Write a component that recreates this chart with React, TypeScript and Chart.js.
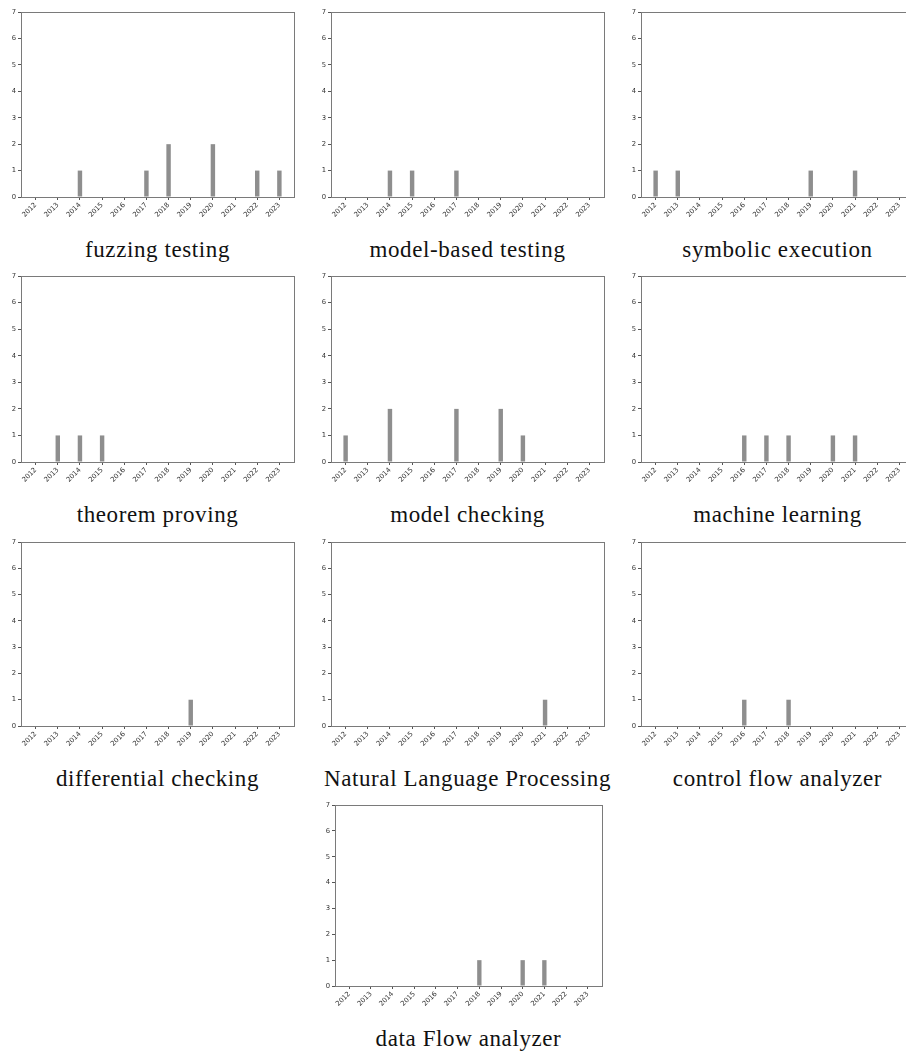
import { useEffect, useRef } from "react";
import { Chart, registerables } from "chart.js";

Chart.register(...registerables);

// ---- data ----
const years = [2012, 2013, 2014, 2015, 2016, 2017, 2018, 2019, 2020, 2021, 2022, 2023];
const yTickValues = [0, 1, 2, 3, 4, 5, 6, 7];

const fuzzingTesting = [0, 0, 1, 0, 0, 1, 2, 0, 2, 0, 1, 1];
const modelBasedTesting = [0, 0, 1, 1, 0, 1, 0, 0, 0, 0, 0, 0];
const symbolicExecution = [1, 1, 0, 0, 0, 0, 0, 1, 0, 1, 0, 0];
const theoremProving = [0, 1, 1, 1, 0, 0, 0, 0, 0, 0, 0, 0];
const modelChecking = [1, 0, 2, 0, 0, 2, 0, 2, 1, 0, 0, 0];
const machineLearning = [0, 0, 0, 0, 1, 1, 1, 0, 1, 1, 0, 0];
const differentialChecking = [0, 0, 0, 0, 0, 0, 0, 1, 0, 0, 0, 0];
const naturalLanguageProcessing = [0, 0, 0, 0, 0, 0, 0, 0, 0, 1, 0, 0];
const controlFlowAnalyzer = [0, 0, 0, 0, 1, 0, 1, 0, 0, 0, 0, 0];
const dataFlowAnalyzer = [0, 0, 0, 0, 0, 0, 1, 0, 1, 1, 0, 0];

const titles = [
  "fuzzing testing",
  "model-based testing",
  "symbolic execution",
  "theorem proving",
  "model checking",
  "machine learning",
  "differential checking",
  "Natural Language Processing",
  "control flow analyzer",
  "data Flow analyzer",
];
const series = [
  fuzzingTesting,
  modelBasedTesting,
  symbolicExecution,
  theoremProving,
  modelChecking,
  machineLearning,
  differentialChecking,
  naturalLanguageProcessing,
  controlFlowAnalyzer,
  dataFlowAnalyzer,
];

// ---- layout (axes boxes in page pixels) ----
const colLeft = [21, 331, 641];
const rowTop = [12, 276, 542];
const rowH = [185, 186, 184];
const boxes = [
  ...[0, 1, 2].flatMap((r) =>
    [0, 1, 2].map((c) => ({ left: colLeft[c], top: rowTop[r], width: 273, height: rowH[r] }))
  ),
  { left: 335, top: 805, width: 267, height: 181 },
];

const Y_W = 18;
const PAD_T = 6;
const PAD_R = 2;
const X_H = 28;

const frame = {
  id: "frame",
  afterDraw(chart: any) {
    const { ctx, chartArea: a } = chart;
    ctx.save();
    ctx.strokeStyle = "#7a7a7a";
    ctx.lineWidth = 1;
    ctx.strokeRect(Math.round(a.left) + 0.5, Math.round(a.top) + 0.5, Math.round(a.right - a.left), Math.round(a.bottom - a.top));
    ctx.restore();
  },
};

function Panel({ title, values, box }: { title: string; values: number[]; box: any }) {
  const ref = useRef<HTMLCanvasElement | null>(null);
  const cw = box.width + Y_W + PAD_R;
  const ch = box.height + PAD_T + X_H;

  useEffect(() => {
    if (!ref.current) return;
    const tickFont = { family: "DejaVu Sans", size: 6.8 };
    const chart = new Chart(ref.current, {
      type: "bar",
      data: {
        datasets: [
          {
            data: years.map((y, i) => ({ x: y, y: values[i] })),
            backgroundColor: "#8e8e8e",
            borderWidth: 0,
            barPercentage: 0.2,
            categoryPercentage: 1,
          },
        ],
      },
      options: {
        animation: false,
        responsive: false,
        maintainAspectRatio: false,
        layout: { padding: { top: PAD_T, right: PAD_R, left: 0, bottom: 0 }, autoPadding: false } as any,
        plugins: { legend: { display: false }, tooltip: { enabled: false } },
        scales: {
          x: {
            type: "linear",
            offset: false,
            min: 2011.34,
            max: 2023.66,
            afterBuildTicks: (axis: any) => {
              axis.ticks = years.map((v) => ({ value: v }));
            },
            afterFit: (s: any) => {
              s.height = X_H;
            },
            ticks: {
              autoSkip: false,
              minRotation: 45,
              maxRotation: 45,
              padding: 1,
              color: "#333",
              font: tickFont,
              callback: (v: any) => String(v),
            },
            grid: { display: true, drawOnChartArea: false, drawTicks: true, tickLength: 3, color: "#555", offset: false },
            border: { display: false },
          },
          y: {
            type: "linear",
            min: 0,
            max: 7,
            afterBuildTicks: (axis: any) => {
              axis.ticks = yTickValues.map((v) => ({ value: v }));
            },
            afterFit: (s: any) => {
              s.width = Y_W;
            },
            ticks: {
              padding: 2,
              color: "#333",
              font: tickFont,
              callback: (v: any) => String(v),
            },
            grid: { display: true, drawOnChartArea: false, drawTicks: true, tickLength: 3, color: "#555" },
            border: { display: false },
          },
        },
      },
      plugins: [frame],
    });
    return () => chart.destroy();
  }, [values]);

  return (
    <>
      <canvas
        ref={ref}
        width={cw}
        height={ch}
        style={{ position: "absolute", left: box.left - Y_W, top: box.top - PAD_T, width: cw, height: ch }}
      />
      <div
        style={{
          position: "absolute",
          left: box.left - 60,
          width: box.width + 120,
          top: box.top + box.height + 41,
          textAlign: "center",
          fontFamily: "'Liberation Serif', serif",
          fontSize: 23,
          lineHeight: "23px",
          letterSpacing: "0.6px",
          color: "#111",
          whiteSpace: "nowrap",
        }}
      >
        {title}
      </div>
    </>
  );
}

export default function App() {
  return (
    <div
      style={{
        position: "fixed",
        left: 0,
        top: 0,
        width: 906,
        height: 1052,
        overflow: "hidden",
        background: "#fff",
      }}
    >
      {series.map((vals, i) => (
        <Panel key={i} title={titles[i]} values={vals} box={boxes[i]} />
      ))}
    </div>
  );
}
